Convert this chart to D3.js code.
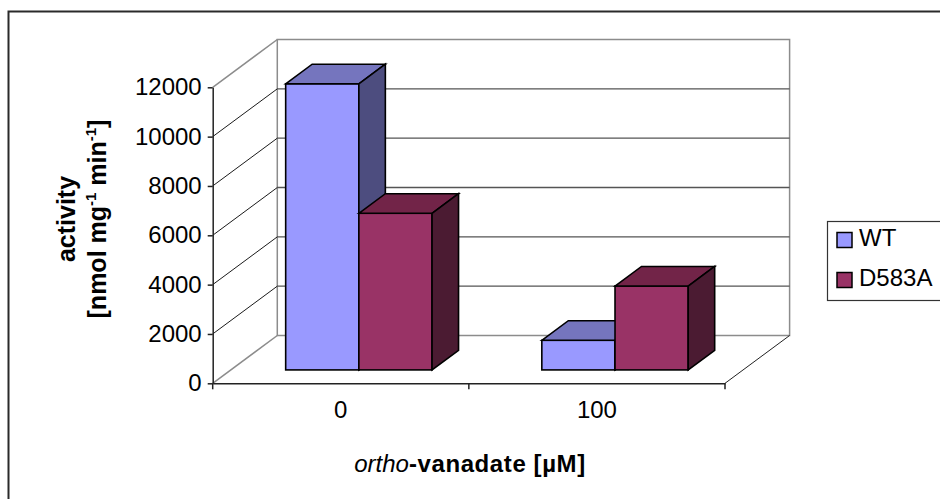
<!DOCTYPE html>
<html>
<head>
<meta charset="utf-8">
<script src="https://cdn.jsdelivr.net/npm/d3@7"></script>
<style>
  body { margin: 0; background: #fff; }
  svg { display: block; font-family: "Liberation Sans", Arial, sans-serif; }
</style>
</head>
<body>
<svg id="chart" width="940" height="499"></svg>
<script>
// data
var categories = ["0", "100"],
    seriesNames = ["WT", "D583A"],
    wtValues = [11600, 1200],
    d583aValues = [6350, 3400],
    yTicks = [0, 2000, 4000, 6000, 8000, 10000, 12000];

var frontColors = ["#9999ff", "#993366"],
    topColors = ["#7575be", "#722448"],
    sideColors = ["#4d4d7f", "#4b1b32"];

var svg = d3.select("#chart");

// depth of the 3d box (front plane -> back wall)
var DX = 64.6, DY = -47.8;
// bars sit between these depth fractions
var barFront = 0.28, barDepth = 0.41;

var x = d3.scaleBand().domain(categories).range([212.7, 725]).padding(0);
var y = d3.scaleLinear().domain([0, 12000]).range([383.3, 87.3]);

var x0 = x.range()[0], x1 = x.range()[1];

// outer frame
svg.append("rect")
  .attr("x", 8.5).attr("y", 11.5)
  .attr("width", 1000).attr("height", 600)
  .attr("fill", "none").attr("stroke", "#2a2a2a").attr("stroke-width", 2);

var walls = svg.append("g");

// back wall
walls.append("rect")
  .attr("x", x0 + DX).attr("y", y(12000) + DY)
  .attr("width", x1 - x0).attr("height", y(0) - y(12000))
  .attr("fill", "none").attr("stroke", "#8c8c8c").attr("stroke-width", 1.5);

// gridlines on the back wall and their diagonals on the side wall
yTicks.filter(t => t > 0 && t < 12000).forEach(t => {
  walls.append("line")
    .attr("x1", x0 + DX).attr("x2", x1 + DX)
    .attr("y1", y(t) + DY).attr("y2", y(t) + DY)
    .attr("stroke", "#555").attr("stroke-width", 1.3);
  walls.append("line")
    .attr("x1", x0).attr("x2", x0 + DX)
    .attr("y1", y(t)).attr("y2", y(t) + DY)
    .attr("stroke", "#000").attr("stroke-width", 0.9);
});

// side wall edges
[0, 12000].forEach(t => {
  walls.append("line")
    .attr("x1", x0).attr("x2", x0 + DX)
    .attr("y1", y(t)).attr("y2", y(t) + DY)
    .attr("stroke", "#8c8c8c").attr("stroke-width", 1.5);
});

// floor right edge
walls.append("line")
  .attr("x1", x1).attr("x2", x1 + DX)
  .attr("y1", y(0)).attr("y2", y(0) + DY)
  .attr("stroke", "#222").attr("stroke-width", 1);

// y axis
var yAxis = svg.append("g")
  .attr("transform", "translate(" + x0 + ",0)")
  .call(d3.axisLeft(y).tickValues(yTicks).tickFormat(d3.format("d")).tickSize(5).tickSizeOuter(0).tickPadding(6));
yAxis.select(".domain").attr("stroke", "#222").attr("stroke-width", 1.5);
yAxis.selectAll(".tick line").attr("stroke", "#222").attr("stroke-width", 1.5);
yAxis.selectAll("text").attr("font-size", 24).attr("fill", "#000")
  .attr("font-family", "Liberation Sans, Arial, sans-serif");

// x axis: labels at band centres, ticks at band edges
var xAxis = svg.append("g")
  .attr("transform", "translate(0," + y(0) + ")")
  .call(d3.axisBottom(x).tickSize(0).tickPadding(18));
xAxis.select(".domain").attr("stroke", "#222").attr("stroke-width", 1.5);
xAxis.selectAll("text").attr("font-size", 24).attr("fill", "#000")
  .attr("font-family", "Liberation Sans, Arial, sans-serif");
var edges = categories.map(c => x(c)).concat([x1]);
xAxis.selectAll(".edge").data(edges).join("line")
  .attr("class", "edge")
  .attr("x1", d => d).attr("x2", d => d)
  .attr("y1", 0).attr("y2", 6)
  .attr("stroke", "#222").attr("stroke-width", 1.5);

// bars
var barW = x.bandwidth() / 3.5;
var seriesValues = [wtValues, d583aValues];
var fx = DX * barFront, fy = DY * barFront,
    bdx = DX * barDepth, bdy = DY * barDepth;

var bars = svg.append("g");
categories.forEach((c, ci) => {
  seriesNames.forEach((s, si) => {
    var v = seriesValues[si][ci];
    var left = x(c) + x.bandwidth() / 2 - barW + si * barW + fx;
    var right = left + barW;
    var top = y(v) + fy, base = y(0) + fy;
    var g = bars.append("g")
      .attr("stroke", "#000").attr("stroke-width", 1.6).attr("stroke-linejoin", "miter");
    // front face
    g.append("rect")
      .attr("x", left).attr("y", top)
      .attr("width", barW).attr("height", base - top)
      .attr("fill", frontColors[si]);
    // top face
    g.append("polygon")
      .attr("points", [[left, top], [left + bdx, top + bdy], [right + bdx, top + bdy], [right, top]].join(" "))
      .attr("fill", topColors[si]);
    // side face
    g.append("polygon")
      .attr("points", [[right, top], [right + bdx, top + bdy], [right + bdx, base + bdy], [right, base]].join(" "))
      .attr("fill", sideColors[si]);
  });
});

// axis titles
var yTitle = svg.append("text")
  .attr("transform", "translate(75,219) rotate(-90)")
  .attr("text-anchor", "middle")
  .attr("font-size", 25).attr("font-weight", "bold");
yTitle.append("tspan").attr("x", 0).attr("dy", 0).text("activity");
var line2 = yTitle.append("tspan").attr("x", 0).attr("dy", 31);
line2.append("tspan").text("[nmol mg");
line2.append("tspan").attr("font-size", 15).attr("dy", -10).text("-1");
line2.append("tspan").attr("dy", 10).text(" min");
line2.append("tspan").attr("font-size", 15).attr("dy", -10).text("-1");
line2.append("tspan").attr("dy", 10).text("]");

var xTitle = svg.append("text")
  .attr("x", 470).attr("y", 472)
  .attr("text-anchor", "middle")
  .attr("font-size", 24);
xTitle.append("tspan").attr("font-style", "italic").text("ortho");
xTitle.append("tspan").attr("font-weight", "bold").attr("letter-spacing", 0.6).text("-vanadate [µM]");

// legend
var legend = svg.append("g");
legend.append("rect")
  .attr("x", 827.5).attr("y", 221.5)
  .attr("width", 200).attr("height", 79)
  .attr("fill", "#fff").attr("stroke", "#333").attr("stroke-width", 1.2);
seriesNames.forEach((s, si) => {
  legend.append("rect")
    .attr("x", 837).attr("y", 232.5 + si * 40)
    .attr("width", 15).attr("height", 15)
    .attr("fill", frontColors[si]).attr("stroke", "#000").attr("stroke-width", 1.5);
  legend.append("text")
    .attr("x", 859).attr("y", 246 + si * 40)
    .attr("font-size", 24)
    .text(s);
});
</script>
</body>
</html>
